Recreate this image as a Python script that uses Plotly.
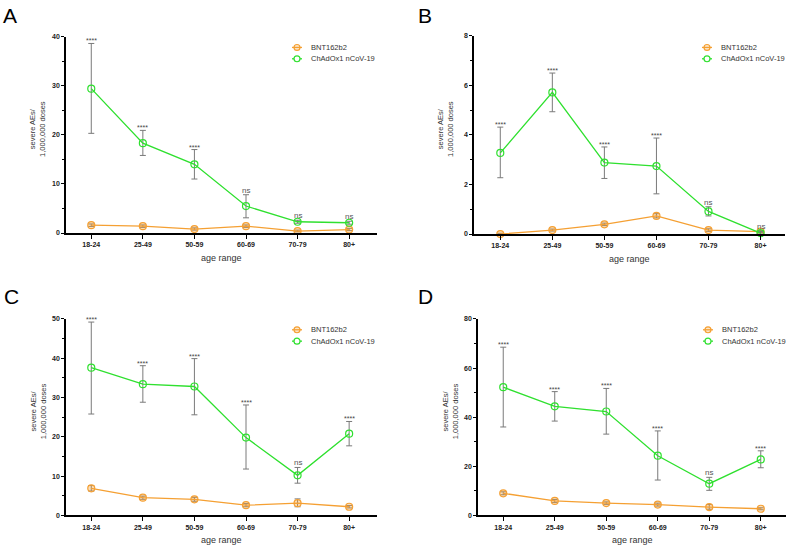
import plotly.graph_objects as go

W, H = 789, 549
cats = ["18-24", "25-49", "50-59", "60-69", "70-79", "80+"]

# Panel A
bnt_A = [1.6, 1.4, 0.8, 1.4, 0.4, 0.7]
bnt_A_hi = [1.85, 1.65, 1.05, 1.65, 0.6, 0.95]
bnt_A_lo = [1.35, 1.15, 0.6, 1.15, 0.25, 0.5]
chad_A = [29.4, 18.3, 14.0, 5.5, 2.3, 2.1]
chad_A_hi = [38.6, 20.9, 17.0, 7.8, 2.6, 2.4]
chad_A_lo = [20.3, 15.8, 11.0, 3.1, 2.0, 1.8]
sig_A = ["****", "****", "****", "ns", "ns", "ns"]

# Panel B
bnt_B = [0.0, 0.16, 0.39, 0.73, 0.16, 0.10]
bnt_B_hi = [0.03, 0.20, 0.44, 0.82, 0.21, 0.14]
bnt_B_lo = [0.0, 0.12, 0.34, 0.65, 0.11, 0.06]
chad_B = [3.27, 5.71, 2.88, 2.74, 0.91, 0.04]
chad_B_hi = [4.31, 6.49, 3.51, 3.87, 1.10, 0.10]
chad_B_lo = [2.27, 4.93, 2.24, 1.62, 0.73, 0.0]
sig_B = ["****", "****", "****", "****", "ns", "ns"]

# Panel C
bnt_C = [6.9, 4.5, 4.1, 2.6, 3.1, 2.2]
bnt_C_hi = [7.6, 4.9, 4.6, 3.0, 4.2, 2.5]
bnt_C_lo = [6.2, 4.1, 3.6, 2.2, 2.2, 1.9]
chad_C = [37.6, 33.4, 32.8, 19.8, 10.2, 20.8]
chad_C_hi = [49.2, 38.1, 39.9, 28.1, 12.2, 23.9]
chad_C_lo = [25.8, 28.8, 25.6, 11.8, 8.2, 17.7]
sig_C = ["****", "****", "****", "****", "ns", "****"]

# Panel D
bnt_D = [9.0, 5.9, 5.0, 4.4, 3.4, 2.7]
bnt_D_hi = [9.6, 6.5, 5.5, 5.0, 4.4, 3.1]
bnt_D_lo = [8.4, 5.3, 4.5, 3.8, 2.5, 2.3]
chad_D = [52.2, 44.4, 42.3, 24.3, 12.9, 22.8]
chad_D_hi = [68.5, 50.4, 51.7, 34.4, 15.5, 26.3]
chad_D_lo = [36.0, 38.4, 33.1, 14.4, 10.2, 19.4]
sig_D = ["****", "****", "****", "****", "ns", "****"]

series_names = ["BNT162b2", "ChAdOx1 nCoV-19"]
ORANGE = "#F5A033"
GREEN = "#2FE02F"
ERR = "#7a7a7a"
FONT = "Liberation Sans, Arial, sans-serif"

panels = [
    dict(letter="A", bnt=(bnt_A, bnt_A_lo, bnt_A_hi), chad=(chad_A, chad_A_lo, chad_A_hi), sig=sig_A,
         ymax=40, dtick=10, px=(66, 377), py=(33, 232), xr=(-0.49, 5.54), leg=(297, 44), letpos=(10, 12)),
    dict(letter="B", bnt=(bnt_B, bnt_B_lo, bnt_B_hi), chad=(chad_B, chad_B_lo, chad_B_hi), sig=sig_B,
         ymax=8, dtick=2, px=(474, 785), py=(32, 233), xr=(-0.505, 5.47), leg=(707, 44), letpos=(425, 12)),
    dict(letter="C", bnt=(bnt_C, bnt_C_lo, bnt_C_hi), chad=(chad_C, chad_C_lo, chad_C_hi), sig=sig_C,
         ymax=50, dtick=10, px=(66, 377), py=(319, 518), xr=(-0.49, 5.54), leg=(297, 330), letpos=(11, 296)),
    dict(letter="D", bnt=(bnt_D, bnt_D_lo, bnt_D_hi), chad=(chad_D, chad_D_lo, chad_D_hi), sig=sig_D,
         ymax=80, dtick=20, px=(478, 786), py=(319, 518), xr=(-0.49, 5.49), leg=(708, 330), letpos=(426, 296)),
]

fig = go.Figure()
annotations = []
shapes = []
layout = {}

for i, p in enumerate(panels):
    n = i + 1
    xa = "x" if n == 1 else f"x{n}"
    ya = "y" if n == 1 else f"y{n}"
    for name, (vals, lo, hi), col, fill in [
        (series_names[0], p["bnt"], ORANGE, "rgba(245,160,51,0.35)"),
        (series_names[1], p["chad"], GREEN, "rgba(255,255,255,0)"),
    ]:
        fig.add_trace(go.Scatter(
            x=cats, y=vals, name=name, mode="lines+markers",
            xaxis=xa, yaxis=ya, cliponaxis=False, showlegend=False,
            line=dict(color=col, width=1.3),
            marker=dict(symbol="circle", size=7, color=fill, line=dict(color=col, width=1.2)),
            error_y=dict(type="data", symmetric=False,
                         array=[h - v for h, v in zip(hi, vals)],
                         arrayminus=[v - l for v, l in zip(vals, lo)],
                         color=ERR, thickness=1, width=3),
        ))
    x0, x1 = p["px"]
    y0, y1 = p["py"]
    layout[("xaxis" if n == 1 else f"xaxis{n}")] = dict(
        domain=[x0 / W, x1 / W], anchor=ya, type="category", range=list(p["xr"]),
        showline=True, linecolor="black", linewidth=1.5, ticks="outside", ticklen=4,
        tickcolor="black", tickwidth=1.2, showgrid=False, zeroline=False,
        tickfont=dict(family=FONT, size=7, color="#222", weight="bold"),
    )
    layout[("yaxis" if n == 1 else f"yaxis{n}")] = dict(
        domain=[1 - y1 / H, 1 - y0 / H], anchor=xa, range=[0, p["ymax"]], dtick=p["dtick"],
        showline=True, linecolor="black", linewidth=1.5, ticks="outside", ticklen=3,
        tickcolor="black", tickwidth=1.2, showgrid=False, zeroline=False,
        minor=dict(ticks="outside", ticklen=2, dtick=p["dtick"] / 2, tickcolor="black", tickwidth=1),
        tickfont=dict(family=FONT, size=7, color="#222", weight="bold"),
    )
    # manual legend (symbol + text)
    lx, ly = p["leg"]
    for k, (name, col, fill) in enumerate([(series_names[0], ORANGE, "rgba(245,160,51,0.25)"),
                                           (series_names[1], GREEN, "white")]):
        yy = ly + 11.5 * k
        shapes.append(dict(type="line", xref="paper", yref="paper",
                           x0=(lx - 5) / W, x1=(lx + 5) / W, y0=1 - yy / H, y1=1 - yy / H,
                           line=dict(color=col, width=1.3)))
        shapes.append(dict(type="circle", xref="paper", yref="paper",
                           x0=(lx - 3) / W, x1=(lx + 3) / W, y0=1 - (yy + 3) / H, y1=1 - (yy - 3) / H,
                           line=dict(color=col, width=1.2), fillcolor=fill))
        annotations.append(dict(x=(lx + 12) / W, y=1 - yy / H, xref="paper", yref="paper", text=name,
                                showarrow=False, xanchor="left", yanchor="middle",
                                font=dict(family=FONT, size=7.5, color="#333")))
    bnt_hi = p["bnt"][2]
    chad_hi = p["chad"][2]
    for j, s in enumerate(p["sig"]):
        top = max(bnt_hi[j], chad_hi[j])
        if s == "ns":
            annotations.append(dict(x=cats[j], y=top, xref=xa, yref=ya, text="ns", showarrow=False,
                                    yanchor="bottom", yshift=-2, font=dict(family=FONT, size=8, color="#555")))
        else:
            annotations.append(dict(x=cats[j], y=top, xref=xa, yref=ya, text=s, showarrow=False,
                                    yanchor="bottom", yshift=-3, font=dict(family=FONT, size=7, color="#444")))
    lpx, lpy = p["letpos"]
    annotations.append(dict(x=lpx / W, y=1 - lpy / H, xref="paper", yref="paper", text=p["letter"],
                            showarrow=False, xanchor="center", yanchor="middle",
                            font=dict(family=FONT, size=21, color="black")))
    annotations.append(dict(x=(x0 + x1) / 2 / W, y=1 - (y1 + 25) / H, xref="paper", yref="paper",
                            text="age range", showarrow=False, xanchor="center", yanchor="middle",
                            font=dict(family=FONT, size=9, color="#333")))
    annotations.append(dict(x=(x0 - 28) / W, y=1 - ((y0 + y1) / 2 - 6) / H, xref="paper", yref="paper",
                            text="severe AEs/<br>1,000,000 doses", textangle=-90, showarrow=False,
                            xanchor="center", yanchor="middle",
                            font=dict(family=FONT, size=7.5, color="#333")))

fig.update_layout(
    width=W, height=H, margin=dict(l=0, r=0, t=0, b=0),
    paper_bgcolor="white", plot_bgcolor="white",
    annotations=annotations, shapes=shapes, showlegend=False,
    **layout,
)

fig.write_html("out.html", config={"displayModeBar": False},
               post_script="document.body.style.margin='0';document.body.style.overflow='hidden';")
